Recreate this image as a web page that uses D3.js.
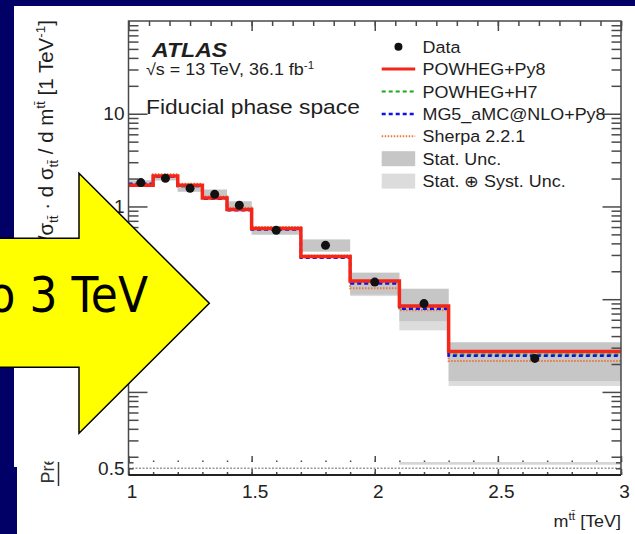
<!DOCTYPE html>
<html>
<head>
<meta charset="utf-8">
<script src="https://cdn.jsdelivr.net/npm/d3@7"></script>
<style>
body { margin: 0; background: #000066; }
svg text { font-family: "Liberation Sans", Arial, Helvetica, sans-serif; }
</style>
</head>
<body>
<svg id="chart" width="635" height="534"></svg>
<script>
// m(tt) bins in TeV
var binEdges = [1, 1.1, 1.2, 1.3, 1.4, 1.5, 1.7, 1.9, 2.1, 2.3, 3];
var dataX = [1.05, 1.15, 1.25, 1.35, 1.45, 1.6, 1.8, 2.0, 2.2, 2.65];
var dataY = [1.81, 2.01, 1.57, 1.35, 1.03, 0.553, 0.381, 0.153, 0.0896, 0.023];

// uncertainty bands
var totLo = [1.70, 1.90, 1.43, 1.25, 0.91, 0.493, 0.323, 0.108, 0.0461, 0.0116];
var totHi = [1.92, 2.12, 1.71, 1.53, 1.146, 0.607, 0.443, 0.194, 0.130, 0.0345];
var statLo = [1.72, 1.92, 1.45, 1.27, 0.93, 0.50, 0.33, 0.112, 0.058, 0.0131];
var statHi = [1.90, 2.10, 1.69, 1.51, 1.13, 0.60, 0.437, 0.192, 0.129, 0.034];

// predictions
var powhegPy8 = [1.69, 2.13, 1.69, 1.23, 0.93, 0.577, 0.288, 0.157, 0.0844, 0.0272];
var powhegH7 = [1.72, 2.10, 1.66, 1.22, 0.92, 0.570, 0.282, 0.151, 0.080, 0.0252];
var mg5Py8 = [1.76, 2.11, 1.66, 1.21, 0.91, 0.565, 0.279, 0.148, 0.079, 0.0245];
var sherpa = [1.75, 2.22, 1.76, 1.28, 0.97, 0.600, 0.295, 0.131, 0.076, 0.0215];

// ratio panel band, only the top edge of the last bins shows
var ratioBandLo = [0.20, 0.20, 0.20, 0.20, 0.20, 0.20, 0.20, 0.20, 0.53, 0.53];
var ratioBandHi = [0.40, 0.40, 0.40, 0.40, 0.40, 0.40, 0.40, 0.40, 1.60, 1.60];

var xTickLabels = [1, 1.5, 2, 2.5, 3];
var yTickLabels = [1, 10];
var ratioTickLabels = [0.5];

var legendNames = ["Data", "POWHEG+Py8", "POWHEG+H7", "MG5_aMC@NLO+Py8", "Sherpa 2.2.1", "Stat. Unc.", "Stat. \u2295 Syst. Unc."];

var SX = 1.1; // picture is a bit stretched sideways
var TT = "t\u0074\u0304";

var svg = d3.select("#chart");

// slide background + white picture areas
svg.append("rect").attr("width", 635).attr("height", 534).attr("fill", "#000066");
svg.append("rect").attr("x", 14).attr("y", 6).attr("width", 621).attr("height", 528).attr("fill", "#ffffff");
svg.append("rect").attr("x", 14).attr("y", 467).attr("width", 3).attr("height", 67).attr("fill", "#000066");

var x = d3.scaleLinear().domain([1, 3]).range([128.5, 621]);
var y = d3.scaleLog().domain([0.00155, 100]).range([467, 21]);
var yr = d3.scaleLinear().domain([0.44, 0.56]).range([475.5, 461.1]);

svg.append("clipPath").attr("id", "plotclip")
    .append("rect").attr("x", 128.5).attr("y", 21).attr("width", 492.5).attr("height", 446);
svg.append("clipPath").attr("id", "ratioclip")
    .append("rect").attr("x", 128.5).attr("y", 462).attr("width", 492.5).attr("height", 13);

var plot = svg.append("g").attr("clip-path", "url(#plotclip)");
var bins = d3.range(dataY.length);

// bands
plot.selectAll("rect.tot").data(bins).enter().append("rect")
    .attr("class", "tot")
    .attr("x", function(i) { return x(binEdges[i]); })
    .attr("width", function(i) { return x(binEdges[i + 1]) - x(binEdges[i]); })
    .attr("y", function(i) { return y(totHi[i]); })
    .attr("height", function(i) { return y(totLo[i]) - y(totHi[i]); })
    .attr("fill", "#dcdcdc");

plot.selectAll("rect.stat").data(bins).enter().append("rect")
    .attr("class", "stat")
    .attr("x", function(i) { return x(binEdges[i]); })
    .attr("width", function(i) { return x(binEdges[i + 1]) - x(binEdges[i]); })
    .attr("y", function(i) { return y(statHi[i]); })
    .attr("height", function(i) { return y(statLo[i]) - y(statHi[i]); })
    .attr("fill", "#c6c6c6");

function stepPoints(vals) {
    var pts = vals.map(function(v, i) { return [binEdges[i], v]; });
    pts.push([binEdges[vals.length], vals[vals.length - 1]]);
    return pts;
}

var stepLine = d3.line()
    .x(function(d) { return x(d[0]); })
    .y(function(d) { return y(d[1]); })
    .curve(d3.curveStepAfter);

var styles = {
    "POWHEG+Py8": { vals: powhegPy8, color: "#f4261a", width: 3.5, dash: null },
    "POWHEG+H7": { vals: powhegH7, color: "#1aa81a", width: 2.2, dash: "4,3" },
    "MG5_aMC@NLO+Py8": { vals: mg5Py8, color: "#1010ee", width: 2.5, dash: "4,3" },
    "Sherpa 2.2.1": { vals: sherpa, color: "#e8783c", width: 2, dash: "1.5,1.5" }
};
var drawOrder = ["Sherpa 2.2.1", "POWHEG+H7", "MG5_aMC@NLO+Py8", "POWHEG+Py8"];

drawOrder.forEach(function(name) {
    var s = styles[name];
    plot.append("path")
        .attr("d", stepLine(stepPoints(s.vals)))
        .attr("fill", "none")
        .attr("stroke", s.color)
        .attr("stroke-width", s.width)
        .attr("stroke-dasharray", s.dash);
});

plot.selectAll("circle.data").data(bins).enter().append("circle")
    .attr("class", "data")
    .attr("cx", function(i) { return x(dataX[i]); })
    .attr("cy", function(i) { return y(dataY[i]); })
    .attr("r", 4.5)
    .attr("fill", "#111");

// log ticks
var majorY = [0.01, 0.1, 1, 10];
var minorY = [];
[-3, -2, -1, 0, 1].forEach(function(k) {
    d3.range(2, 10).forEach(function(m) {
        var v = m * Math.pow(10, k);
        if (v > 0.00155 && v < 100) minorY.push(v);
    });
});

var axisColor = "#4a4a4a";

function styleAxis(g) {
    g.selectAll("line").attr("stroke", axisColor).attr("stroke-width", 1.5);
    g.select(".domain").remove();
    g.attr("font-family", null).attr("font-size", 19);
    g.selectAll("text").attr("fill", "#222");
}

svg.append("g").attr("transform", "translate(128.5,0)")
    .call(d3.axisLeft(y).tickValues(minorY).tickSize(-10).tickFormat(""))
    .call(styleAxis);
svg.append("g").attr("transform", "translate(128.5,0)")
    .call(d3.axisLeft(y).tickValues(majorY).tickSize(-19).tickPadding(4)
        .tickFormat(function(d) { return yTickLabels.indexOf(d) >= 0 ? d : ""; }))
    .call(styleAxis);
svg.append("g").attr("transform", "translate(621,0)")
    .call(d3.axisRight(y).tickValues(minorY).tickSize(-9.5).tickFormat(""))
    .call(styleAxis);
svg.append("g").attr("transform", "translate(621,0)")
    .call(d3.axisRight(y).tickValues(majorY).tickSize(-18.5).tickFormat(""))
    .call(styleAxis);

// top axis
var topMinor = d3.range(1, 3.001, 0.5 / 6);
svg.append("g").attr("transform", "translate(0,21)")
    .call(d3.axisTop(x).tickValues(topMinor).tickSize(-5).tickFormat(""))
    .call(styleAxis);
svg.append("g").attr("transform", "translate(0,21)")
    .call(d3.axisTop(x).tickValues(xTickLabels).tickSize(-10).tickFormat(""))
    .call(styleAxis);

// bottom of main panel
var botMinor = d3.range(1, 3.001, 0.1);
svg.append("g").attr("transform", "translate(0,467)")
    .call(d3.axisBottom(x).tickValues(botMinor).tickSize(-6.5).tickFormat(""))
    .call(styleAxis);
svg.append("g").attr("transform", "translate(0,467)")
    .call(d3.axisBottom(x).tickValues(xTickLabels).tickSize(-11).tickFormat(""))
    .call(styleAxis);

// ratio strip picture on top
svg.append("rect").attr("x", 17).attr("y", 462).attr("width", 618).attr("height", 72).attr("fill", "#ffffff");

var ratio = svg.append("g").attr("clip-path", "url(#ratioclip)");
ratio.selectAll("rect").data(bins).enter().append("rect")
    .attr("x", function(i) { return x(binEdges[i]); })
    .attr("width", function(i) { return x(binEdges[i + 1]) - x(binEdges[i]); })
    .attr("y", function(i) { return yr(ratioBandHi[i]); })
    .attr("height", function(i) { return yr(ratioBandLo[i]) - yr(ratioBandHi[i]); })
    .attr("fill", "#d6d6d6");

ratio.append("line")
    .attr("x1", x(1)).attr("x2", x(3))
    .attr("y1", yr(0.5)).attr("y2", yr(0.5))
    .attr("stroke", "#9a9a9a").attr("stroke-width", 1.5)
    .attr("stroke-dasharray", "2,1.5");

svg.append("g").attr("transform", "translate(128.5,0)")
    .call(d3.axisLeft(yr).tickValues([0.45, 0.5, 0.55]).tickSize(-5).tickPadding(4)
        .tickFormat(function(d) { return ratioTickLabels.indexOf(d) >= 0 ? d : ""; }))
    .call(styleAxis);
svg.append("g").attr("transform", "translate(621,0)")
    .call(d3.axisRight(yr).tickValues([0.45, 0.5, 0.55]).tickSize(-5).tickFormat(""))
    .call(styleAxis);

svg.append("g").attr("transform", "translate(0,475)")
    .call(d3.axisBottom(x).tickValues(botMinor).tickSize(-3).tickFormat(""))
    .call(styleAxis);
svg.append("g").attr("transform", "translate(0,475)")
    .call(d3.axisBottom(x).tickValues(xTickLabels).tickSize(-6).tickPadding(10)
        .tickFormat(function(d) { return d; }))
    .call(styleAxis)
    .selectAll("text").attr("dx", 3);

// frame
svg.append("path")
    .attr("d", "M" + x(1) + ",475V21H" + x(3) + "V475")
    .attr("fill", "none").attr("stroke", axisColor).attr("stroke-width", 1.5);
svg.append("line")
    .attr("x1", x(1)).attr("x2", x(3)).attr("y1", 475).attr("y2", 475)
    .attr("stroke", "#222").attr("stroke-width", 2.2);

// text helper
function txt(g, px, py, size, anchor) {
    return g.append("text")
        .attr("transform", "translate(" + px + "," + py + ") scale(" + SX + ",1)")
        .attr("font-size", size)
        .attr("text-anchor", anchor || "start")
        .attr("fill", "#1e1e1e");
}

// ATLAS labels
txt(svg, 152, 56.5, 21).attr("font-weight", "bold").attr("font-style", "italic").text("ATLAS");
var sq = txt(svg, 146, 75, 16.3);
sq.append("tspan").text("\u221As = 13 TeV, 36.1 fb");
sq.append("tspan").attr("font-size", 10.5).attr("dy", -6).text("-1");
txt(svg, 146, 113.5, 20.7).text("Fiducial phase space");

// legend
var legX = 381.7, legW = 33.5, legTextX = 422.5, legY0 = 46.7, legDy = 22.4;
var leg = svg.append("g");
legendNames.forEach(function(name, i) {
    var cy = legY0 + i * legDy;
    if (name === "Data") {
        leg.append("circle").attr("cx", legX + legW / 2).attr("cy", cy).attr("r", 4).attr("fill", "#111");
    } else if (styles[name]) {
        var s = styles[name];
        leg.append("line")
            .attr("x1", legX).attr("x2", legX + legW)
            .attr("y1", cy).attr("y2", cy)
            .attr("stroke", s.color).attr("stroke-width", Math.min(s.width, 3))
            .attr("stroke-dasharray", s.dash);
    } else {
        leg.append("rect")
            .attr("x", legX).attr("y", cy - 7.5)
            .attr("width", legW).attr("height", 15)
            .attr("fill", name === "Stat. Unc." ? "#c6c6c6" : "#dcdcdc");
    }
    txt(leg, legTextX, cy + 6, 16.3).text(name);
});

// y axis title (lower part hidden by the arrow)
var yt = svg.append("text")
    .attr("transform", "translate(52.5,20) rotate(-90)")
    .attr("text-anchor", "end")
    .attr("font-size", 20.5)
    .attr("fill", "#1e1e1e");
yt.append("tspan").text("1/\u03C3");
yt.append("tspan").attr("font-size", 13.5).attr("dy", 5).text(TT);
yt.append("tspan").attr("dy", -5).text(" \u00B7 d \u03C3");
yt.append("tspan").attr("font-size", 13.5).attr("dy", 5).text(TT);
yt.append("tspan").attr("dy", -5).text(" / d m");
yt.append("tspan").attr("font-size", 13.5).attr("dy", -8).text(TT);
yt.append("tspan").attr("dy", 8).text(" [1 TeV");
yt.append("tspan").attr("font-size", 13.5).attr("dy", -8).text("-1");
yt.append("tspan").attr("dy", 8).text("]");

// ratio title (mostly hidden)
svg.append("clipPath").attr("id", "rtclip")
    .append("rect").attr("x", 20).attr("y", 461.5).attr("width", 60).attr("height", 40);
svg.append("g").attr("clip-path", "url(#rtclip)")
    .append("text")
    .attr("transform", "translate(53.5,483.5) rotate(-90)")
    .attr("font-size", 18)
    .attr("fill", "#333")
    .text("Prediction");
svg.append("line")
    .attr("x1", 58.5).attr("x2", 58.5).attr("y1", 462).attr("y2", 486)
    .attr("stroke", "#333").attr("stroke-width", 1.5);

// x axis title
var xt = txt(svg, 621, 526.5, 16.3, "end");
xt.append("tspan").text("m");
xt.append("tspan").attr("font-size", 11).attr("dy", -7).text(TT);
xt.append("tspan").attr("dy", 7).text(" [TeV]");

// yellow arrow
var arrowPts = [[-10, 238.3], [79, 238.3], [79, 173.3], [209.3, 303.3], [79, 433.3], [79, 367.3], [-10, 367.3]];
svg.append("polygon")
    .attr("points", arrowPts.map(function(p) { return p.join(","); }).join(" "))
    .attr("fill", "#ffff00")
    .attr("stroke", "#000")
    .attr("stroke-width", 1.5);
svg.append("text")
    .attr("transform", "translate(148,311.5) scale(1,1.12)")
    .attr("text-anchor", "end")
    .style("font-family", "'Comic Sans MS', 'DejaVu Sans', sans-serif")
    .attr("font-size", 44)
    .attr("fill", "#000")
    .text("Up to 3 TeV");
</script>
</body>
</html>
